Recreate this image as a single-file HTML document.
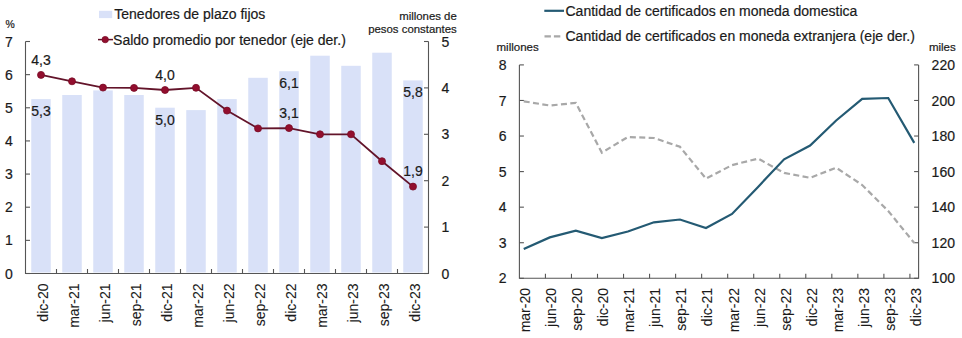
<!DOCTYPE html><html><head><meta charset="utf-8"><style>html,body{margin:0;padding:0;background:#fff;}svg{display:block;}text{font-family:"Liberation Sans",sans-serif;fill:#1a1a1a;stroke:#1a1a1a;stroke-width:0.2px;}</style></head><body>
<svg width="962" height="338" viewBox="0 0 962 338">
<rect x="31.25" y="99.10" width="19.50" height="173.40" fill="#d9e1f8"/>
<rect x="62.25" y="95.00" width="19.50" height="177.50" fill="#d9e1f8"/>
<rect x="93.25" y="90.40" width="19.50" height="182.10" fill="#d9e1f8"/>
<rect x="124.25" y="95.00" width="19.50" height="177.50" fill="#d9e1f8"/>
<rect x="155.25" y="107.70" width="19.50" height="164.80" fill="#d9e1f8"/>
<rect x="186.25" y="110.10" width="19.50" height="162.40" fill="#d9e1f8"/>
<rect x="217.25" y="99.10" width="19.50" height="173.40" fill="#d9e1f8"/>
<rect x="248.25" y="77.80" width="19.50" height="194.70" fill="#d9e1f8"/>
<rect x="279.25" y="71.20" width="19.50" height="201.30" fill="#d9e1f8"/>
<rect x="310.25" y="55.70" width="19.50" height="216.80" fill="#d9e1f8"/>
<rect x="341.25" y="65.80" width="19.50" height="206.70" fill="#d9e1f8"/>
<rect x="372.25" y="52.70" width="19.50" height="219.80" fill="#d9e1f8"/>
<rect x="403.25" y="80.40" width="19.50" height="192.10" fill="#d9e1f8"/>
<path d="M25.5 41.5 V273.5 H428.5 V41.5" fill="none" stroke="#555555" stroke-width="1.1"/>
<line x1="25.5" y1="273.50" x2="30.0" y2="273.50" stroke="#555555" stroke-width="1.1"/>
<text x="9" y="278.60" font-size="14" text-anchor="middle">0</text>
<line x1="25.5" y1="240.36" x2="30.0" y2="240.36" stroke="#555555" stroke-width="1.1"/>
<text x="9" y="245.46" font-size="14" text-anchor="middle">1</text>
<line x1="25.5" y1="207.21" x2="30.0" y2="207.21" stroke="#555555" stroke-width="1.1"/>
<text x="9" y="212.31" font-size="14" text-anchor="middle">2</text>
<line x1="25.5" y1="174.07" x2="30.0" y2="174.07" stroke="#555555" stroke-width="1.1"/>
<text x="9" y="179.17" font-size="14" text-anchor="middle">3</text>
<line x1="25.5" y1="140.93" x2="30.0" y2="140.93" stroke="#555555" stroke-width="1.1"/>
<text x="9" y="146.03" font-size="14" text-anchor="middle">4</text>
<line x1="25.5" y1="107.79" x2="30.0" y2="107.79" stroke="#555555" stroke-width="1.1"/>
<text x="9" y="112.89" font-size="14" text-anchor="middle">5</text>
<line x1="25.5" y1="74.64" x2="30.0" y2="74.64" stroke="#555555" stroke-width="1.1"/>
<text x="9" y="79.74" font-size="14" text-anchor="middle">6</text>
<line x1="25.5" y1="41.50" x2="30.0" y2="41.50" stroke="#555555" stroke-width="1.1"/>
<text x="9" y="46.60" font-size="14" text-anchor="middle">7</text>
<line x1="424.0" y1="273.50" x2="428.5" y2="273.50" stroke="#555555" stroke-width="1.1"/>
<text x="445.5" y="278.60" font-size="14" text-anchor="middle">0</text>
<line x1="424.0" y1="227.10" x2="428.5" y2="227.10" stroke="#555555" stroke-width="1.1"/>
<text x="445.5" y="232.20" font-size="14" text-anchor="middle">1</text>
<line x1="424.0" y1="180.70" x2="428.5" y2="180.70" stroke="#555555" stroke-width="1.1"/>
<text x="445.5" y="185.80" font-size="14" text-anchor="middle">2</text>
<line x1="424.0" y1="134.30" x2="428.5" y2="134.30" stroke="#555555" stroke-width="1.1"/>
<text x="445.5" y="139.40" font-size="14" text-anchor="middle">3</text>
<line x1="424.0" y1="87.90" x2="428.5" y2="87.90" stroke="#555555" stroke-width="1.1"/>
<text x="445.5" y="93.00" font-size="14" text-anchor="middle">4</text>
<line x1="424.0" y1="41.50" x2="428.5" y2="41.50" stroke="#555555" stroke-width="1.1"/>
<text x="445.5" y="46.60" font-size="14" text-anchor="middle">5</text>
<line x1="56.50" y1="269.0" x2="56.50" y2="273.5" stroke="#555555" stroke-width="1.1"/>
<line x1="87.50" y1="269.0" x2="87.50" y2="273.5" stroke="#555555" stroke-width="1.1"/>
<line x1="118.50" y1="269.0" x2="118.50" y2="273.5" stroke="#555555" stroke-width="1.1"/>
<line x1="149.50" y1="269.0" x2="149.50" y2="273.5" stroke="#555555" stroke-width="1.1"/>
<line x1="180.50" y1="269.0" x2="180.50" y2="273.5" stroke="#555555" stroke-width="1.1"/>
<line x1="211.50" y1="269.0" x2="211.50" y2="273.5" stroke="#555555" stroke-width="1.1"/>
<line x1="242.50" y1="269.0" x2="242.50" y2="273.5" stroke="#555555" stroke-width="1.1"/>
<line x1="273.50" y1="269.0" x2="273.50" y2="273.5" stroke="#555555" stroke-width="1.1"/>
<line x1="304.50" y1="269.0" x2="304.50" y2="273.5" stroke="#555555" stroke-width="1.1"/>
<line x1="335.50" y1="269.0" x2="335.50" y2="273.5" stroke="#555555" stroke-width="1.1"/>
<line x1="366.50" y1="269.0" x2="366.50" y2="273.5" stroke="#555555" stroke-width="1.1"/>
<line x1="397.50" y1="269.0" x2="397.50" y2="273.5" stroke="#555555" stroke-width="1.1"/>
<text transform="translate(47.50 283.5) rotate(-90)" font-size="14" text-anchor="end" style="stroke-width:0.08px">dic-20</text>
<text transform="translate(78.50 283.5) rotate(-90)" font-size="14" text-anchor="end" style="stroke-width:0.08px">mar-21</text>
<text transform="translate(109.50 283.5) rotate(-90)" font-size="14" text-anchor="end" style="stroke-width:0.08px">jun-21</text>
<text transform="translate(140.50 283.5) rotate(-90)" font-size="14" text-anchor="end" style="stroke-width:0.08px">sep-21</text>
<text transform="translate(171.50 283.5) rotate(-90)" font-size="14" text-anchor="end" style="stroke-width:0.08px">dic-21</text>
<text transform="translate(202.50 283.5) rotate(-90)" font-size="14" text-anchor="end" style="stroke-width:0.08px">mar-22</text>
<text transform="translate(233.50 283.5) rotate(-90)" font-size="14" text-anchor="end" style="stroke-width:0.08px">jun-22</text>
<text transform="translate(264.50 283.5) rotate(-90)" font-size="14" text-anchor="end" style="stroke-width:0.08px">sep-22</text>
<text transform="translate(295.50 283.5) rotate(-90)" font-size="14" text-anchor="end" style="stroke-width:0.08px">dic-22</text>
<text transform="translate(326.50 283.5) rotate(-90)" font-size="14" text-anchor="end" style="stroke-width:0.08px">mar-23</text>
<text transform="translate(357.50 283.5) rotate(-90)" font-size="14" text-anchor="end" style="stroke-width:0.08px">jun-23</text>
<text transform="translate(388.50 283.5) rotate(-90)" font-size="14" text-anchor="end" style="stroke-width:0.08px">sep-23</text>
<text transform="translate(419.50 283.5) rotate(-90)" font-size="14" text-anchor="end" style="stroke-width:0.08px">dic-23</text>
<polyline points="41.00,74.90 72.00,81.30 103.00,87.60 134.00,87.90 165.00,90.00 196.00,87.80 227.00,110.60 258.00,128.40 289.00,128.10 320.00,134.30 351.00,134.30 382.00,161.20 413.00,186.60" fill="none" stroke="#63142a" stroke-width="1.8"/>
<circle cx="41.00" cy="74.90" r="3.5" fill="#920e2e" stroke="#7a0b26" stroke-width="0.8"/>
<circle cx="72.00" cy="81.30" r="3.5" fill="#920e2e" stroke="#7a0b26" stroke-width="0.8"/>
<circle cx="103.00" cy="87.60" r="3.5" fill="#920e2e" stroke="#7a0b26" stroke-width="0.8"/>
<circle cx="134.00" cy="87.90" r="3.5" fill="#920e2e" stroke="#7a0b26" stroke-width="0.8"/>
<circle cx="165.00" cy="90.00" r="3.5" fill="#920e2e" stroke="#7a0b26" stroke-width="0.8"/>
<circle cx="196.00" cy="87.80" r="3.5" fill="#920e2e" stroke="#7a0b26" stroke-width="0.8"/>
<circle cx="227.00" cy="110.60" r="3.5" fill="#920e2e" stroke="#7a0b26" stroke-width="0.8"/>
<circle cx="258.00" cy="128.40" r="3.5" fill="#920e2e" stroke="#7a0b26" stroke-width="0.8"/>
<circle cx="289.00" cy="128.10" r="3.5" fill="#920e2e" stroke="#7a0b26" stroke-width="0.8"/>
<circle cx="320.00" cy="134.30" r="3.5" fill="#920e2e" stroke="#7a0b26" stroke-width="0.8"/>
<circle cx="351.00" cy="134.30" r="3.5" fill="#920e2e" stroke="#7a0b26" stroke-width="0.8"/>
<circle cx="382.00" cy="161.20" r="3.5" fill="#920e2e" stroke="#7a0b26" stroke-width="0.8"/>
<circle cx="413.00" cy="186.60" r="3.5" fill="#920e2e" stroke="#7a0b26" stroke-width="0.8"/>
<text x="41.00" y="64.70" font-size="14" text-anchor="middle">4,3</text>
<text x="41.00" y="116.10" font-size="14" text-anchor="middle">5,3</text>
<text x="165.00" y="80.00" font-size="14" text-anchor="middle">4,0</text>
<text x="165.00" y="124.70" font-size="14" text-anchor="middle">5,0</text>
<text x="289.00" y="117.80" font-size="14" text-anchor="middle">3,1</text>
<text x="289.00" y="88.20" font-size="14" text-anchor="middle">6,1</text>
<text x="413.00" y="176.30" font-size="14" text-anchor="middle">1,9</text>
<text x="413.00" y="97.40" font-size="14" text-anchor="middle">5,8</text>
<text x="5.4" y="27.8" font-size="10.4">%</text>
<text x="456.8" y="19.5" font-size="11.4" text-anchor="end">millones de</text>
<text x="456.8" y="32.5" font-size="11.4" text-anchor="end">pesos constantes</text>
<rect x="99" y="10.8" width="13.2" height="7.3" fill="#d9e1f8"/>
<text x="114.3" y="18.9" font-size="14">Tenedores de plazo fijos</text>
<line x1="98" y1="39.6" x2="113" y2="39.6" stroke="#63142a" stroke-width="1.5"/>
<circle cx="105.2" cy="39.6" r="3.2" fill="#920e2e" stroke="#7a0b26" stroke-width="0.8"/>
<text x="113.1" y="44.8" font-size="14">Saldo promedio por tenedor (eje der.)</text>
<path d="M519.4 64.9 V278.3 H918.6 V64.9" fill="none" stroke="#555555" stroke-width="1.1"/>
<line x1="519.4" y1="278.30" x2="523.9" y2="278.30" stroke="#555555" stroke-width="1.1"/>
<text x="502.6" y="283.40" font-size="14" text-anchor="middle">2</text>
<line x1="914.1" y1="278.30" x2="918.6" y2="278.30" stroke="#555555" stroke-width="1.1"/>
<text x="943.3" y="283.40" font-size="14" text-anchor="middle">100</text>
<line x1="519.4" y1="242.73" x2="523.9" y2="242.73" stroke="#555555" stroke-width="1.1"/>
<text x="502.6" y="247.83" font-size="14" text-anchor="middle">3</text>
<line x1="914.1" y1="242.73" x2="918.6" y2="242.73" stroke="#555555" stroke-width="1.1"/>
<text x="943.3" y="247.83" font-size="14" text-anchor="middle">120</text>
<line x1="519.4" y1="207.17" x2="523.9" y2="207.17" stroke="#555555" stroke-width="1.1"/>
<text x="502.6" y="212.27" font-size="14" text-anchor="middle">4</text>
<line x1="914.1" y1="207.17" x2="918.6" y2="207.17" stroke="#555555" stroke-width="1.1"/>
<text x="943.3" y="212.27" font-size="14" text-anchor="middle">140</text>
<line x1="519.4" y1="171.60" x2="523.9" y2="171.60" stroke="#555555" stroke-width="1.1"/>
<text x="502.6" y="176.70" font-size="14" text-anchor="middle">5</text>
<line x1="914.1" y1="171.60" x2="918.6" y2="171.60" stroke="#555555" stroke-width="1.1"/>
<text x="943.3" y="176.70" font-size="14" text-anchor="middle">160</text>
<line x1="519.4" y1="136.03" x2="523.9" y2="136.03" stroke="#555555" stroke-width="1.1"/>
<text x="502.6" y="141.13" font-size="14" text-anchor="middle">6</text>
<line x1="914.1" y1="136.03" x2="918.6" y2="136.03" stroke="#555555" stroke-width="1.1"/>
<text x="943.3" y="141.13" font-size="14" text-anchor="middle">180</text>
<line x1="519.4" y1="100.47" x2="523.9" y2="100.47" stroke="#555555" stroke-width="1.1"/>
<text x="502.6" y="105.57" font-size="14" text-anchor="middle">7</text>
<line x1="914.1" y1="100.47" x2="918.6" y2="100.47" stroke="#555555" stroke-width="1.1"/>
<text x="943.3" y="105.57" font-size="14" text-anchor="middle">200</text>
<line x1="519.4" y1="64.90" x2="523.9" y2="64.90" stroke="#555555" stroke-width="1.1"/>
<text x="502.6" y="70.00" font-size="14" text-anchor="middle">8</text>
<line x1="914.1" y1="64.90" x2="918.6" y2="64.90" stroke="#555555" stroke-width="1.1"/>
<text x="943.3" y="70.00" font-size="14" text-anchor="middle">220</text>
<line x1="545.43" y1="273.8" x2="545.43" y2="278.3" stroke="#555555" stroke-width="1.1"/>
<line x1="571.47" y1="273.8" x2="571.47" y2="278.3" stroke="#555555" stroke-width="1.1"/>
<line x1="597.50" y1="273.8" x2="597.50" y2="278.3" stroke="#555555" stroke-width="1.1"/>
<line x1="623.54" y1="273.8" x2="623.54" y2="278.3" stroke="#555555" stroke-width="1.1"/>
<line x1="649.57" y1="273.8" x2="649.57" y2="278.3" stroke="#555555" stroke-width="1.1"/>
<line x1="675.61" y1="273.8" x2="675.61" y2="278.3" stroke="#555555" stroke-width="1.1"/>
<line x1="701.64" y1="273.8" x2="701.64" y2="278.3" stroke="#555555" stroke-width="1.1"/>
<line x1="727.68" y1="273.8" x2="727.68" y2="278.3" stroke="#555555" stroke-width="1.1"/>
<line x1="753.71" y1="273.8" x2="753.71" y2="278.3" stroke="#555555" stroke-width="1.1"/>
<line x1="779.75" y1="273.8" x2="779.75" y2="278.3" stroke="#555555" stroke-width="1.1"/>
<line x1="805.78" y1="273.8" x2="805.78" y2="278.3" stroke="#555555" stroke-width="1.1"/>
<line x1="831.82" y1="273.8" x2="831.82" y2="278.3" stroke="#555555" stroke-width="1.1"/>
<line x1="857.85" y1="273.8" x2="857.85" y2="278.3" stroke="#555555" stroke-width="1.1"/>
<line x1="883.89" y1="273.8" x2="883.89" y2="278.3" stroke="#555555" stroke-width="1.1"/>
<line x1="909.92" y1="273.8" x2="909.92" y2="278.3" stroke="#555555" stroke-width="1.1"/>
<text transform="translate(530.24 288) rotate(-90)" font-size="14" text-anchor="end" style="stroke-width:0.08px">mar-20</text>
<text transform="translate(556.27 288) rotate(-90)" font-size="14" text-anchor="end" style="stroke-width:0.08px">jun-20</text>
<text transform="translate(582.31 288) rotate(-90)" font-size="14" text-anchor="end" style="stroke-width:0.08px">sep-20</text>
<text transform="translate(608.34 288) rotate(-90)" font-size="14" text-anchor="end" style="stroke-width:0.08px">dic-20</text>
<text transform="translate(634.38 288) rotate(-90)" font-size="14" text-anchor="end" style="stroke-width:0.08px">mar-21</text>
<text transform="translate(660.41 288) rotate(-90)" font-size="14" text-anchor="end" style="stroke-width:0.08px">jun-21</text>
<text transform="translate(686.45 288) rotate(-90)" font-size="14" text-anchor="end" style="stroke-width:0.08px">sep-21</text>
<text transform="translate(712.48 288) rotate(-90)" font-size="14" text-anchor="end" style="stroke-width:0.08px">dic-21</text>
<text transform="translate(738.52 288) rotate(-90)" font-size="14" text-anchor="end" style="stroke-width:0.08px">mar-22</text>
<text transform="translate(764.55 288) rotate(-90)" font-size="14" text-anchor="end" style="stroke-width:0.08px">jun-22</text>
<text transform="translate(790.59 288) rotate(-90)" font-size="14" text-anchor="end" style="stroke-width:0.08px">sep-22</text>
<text transform="translate(816.62 288) rotate(-90)" font-size="14" text-anchor="end" style="stroke-width:0.08px">dic-22</text>
<text transform="translate(842.66 288) rotate(-90)" font-size="14" text-anchor="end" style="stroke-width:0.08px">mar-23</text>
<text transform="translate(868.69 288) rotate(-90)" font-size="14" text-anchor="end" style="stroke-width:0.08px">jun-23</text>
<text transform="translate(894.73 288) rotate(-90)" font-size="14" text-anchor="end" style="stroke-width:0.08px">sep-23</text>
<text transform="translate(920.76 288) rotate(-90)" font-size="14" text-anchor="end" style="stroke-width:0.08px">dic-23</text>
<polyline points="523.74,101.30 549.77,105.50 575.81,102.90 601.84,152.60 627.88,137.00 653.91,138.00 679.95,146.80 705.98,178.70 732.02,165.10 758.05,158.60 784.09,172.90 810.12,177.80 836.16,167.70 862.19,185.00 888.23,211.00 914.26,243.00" fill="none" stroke="#a8a8a8" stroke-width="2.2" stroke-dasharray="6,3.4"/>
<polyline points="523.74,249.10 549.77,237.40 575.81,230.60 601.84,238.00 627.88,231.50 653.91,222.30 679.95,219.50 705.98,228.00 732.02,213.90 758.05,186.90 784.09,159.30 810.12,145.50 836.16,120.50 862.19,98.90 888.23,98.00 914.26,142.90" fill="none" stroke="#245a73" stroke-width="2.2"/>
<text x="496.5" y="50.9" font-size="11.5">millones</text>
<text x="942.3" y="50.9" font-size="11.5" text-anchor="middle">miles</text>
<line x1="544.3" y1="10.8" x2="564" y2="10.8" stroke="#245a73" stroke-width="2.2"/>
<text x="565.5" y="15.6" font-size="14">Cantidad de certificados en moneda domestica</text>
<line x1="544.5" y1="36.4" x2="560.5" y2="36.4" stroke="#a8a8a8" stroke-width="2.2" stroke-dasharray="6.4,3"/>
<text x="565.5" y="41.1" font-size="14">Cantidad de certificados en moneda extranjera (eje der.)</text>
</svg></body></html>
